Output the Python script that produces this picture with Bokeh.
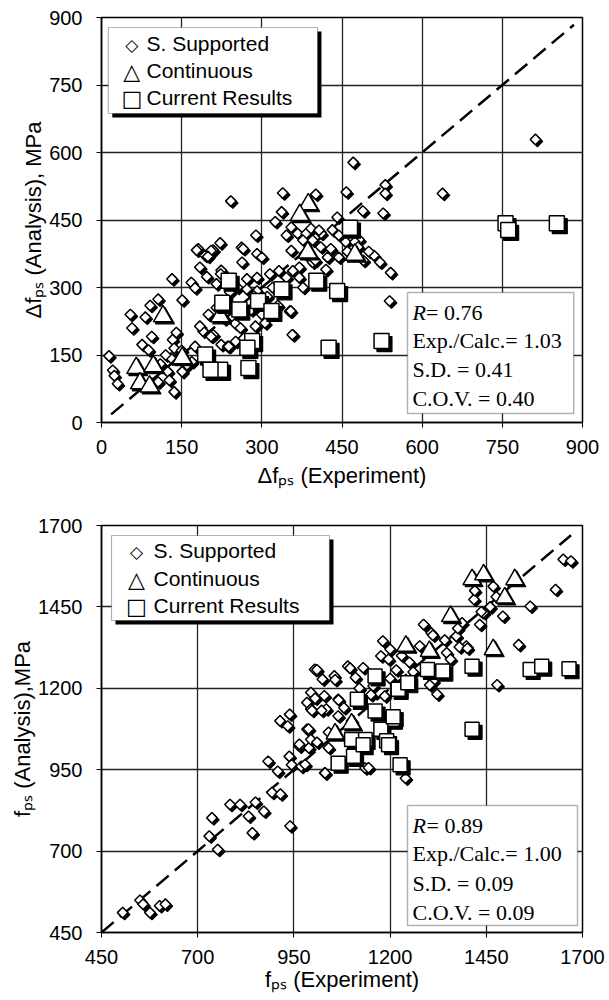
import math
from bokeh.plotting import figure
from bokeh.models import Range1d, FixedTicker, Label, BoxAnnotation, ColumnDataSource
from bokeh.transform import dodge
from bokeh.layouts import column
from bokeh.embed import file_html
from bokeh.resources import INLINE

# ---------------- DATA ----------------
top_ticks = [0, 150, 300, 450, 600, 750, 900]
bot_ticks = [450, 700, 950, 1200, 1450, 1700]

top_diag = [18, 884]
bot_diag = [450, 1670]

top_ss_pts = [
    (812, 629), (471, 578), (242, 492), (339, 510), (401, 507), (458, 512), (531, 528), (531, 509), (638, 509),
    (337, 468), (489, 470), (527, 465), (441, 456), (325, 446), (289, 416), (355, 434), (222, 399), (181, 386),
    (262, 389), (411, 420), (432, 428), (482, 406), (178, 383), (194, 371), (209, 383), (184, 345), (197, 324),
    (215, 308), (132, 319), (168, 311), (175, 299), (151, 272), (106, 274), (91, 260), (54, 240), (82, 234),
    (57, 210), (94, 191), (76, 173), (88, 161), (133, 184), (136, 165), (14, 148), (21, 116), (30, 86), (24, 104),
    (106, 90), (124, 113), (127, 94), (136, 68), (151, 113), (160, 128), (169, 135), (130, 143), (175, 169),
    (190, 203), (184, 214), (209, 195), (224, 173), (236, 169), (224, 338), (346, 416), (367, 420), (383, 420),
    (392, 431), (407, 427), (377, 405), (395, 405), (444, 416), (457, 401), (474, 401), (429, 386), (423, 367),
    (444, 367), (355, 382), (380, 375), (395, 356), (370, 345), (205, 382), (199, 369), (265, 386), (291, 375),
    (263, 356), (300, 367), (315, 330), (332, 337), (346, 322), (358, 337), (370, 322), (377, 300), (223, 330),
    (272, 319), (291, 322), (291, 292), (272, 296), (254, 300), (285, 281), (352, 247), (358, 195), (306, 221),
    (288, 214), (266, 187), (251, 180), (238, 169), (205, 191), (539, 270), (541, 333), (521, 356), (510, 371),
    (357, 195), (354, 248), (310, 280), (330, 260), (300, 240), (320, 300), (410, 390), (400, 360), (420, 340),
    (460, 380), (480, 390), (500, 380), (490, 360), (150, 160), (110, 130), (120, 150), (140, 200), (200, 240),
    (215, 255), (240, 290), (230, 230), (250, 220), (260, 210), (280, 250),
]
top_ct_pts = [
    (387, 485), (371, 461), (474, 373), (386, 378), (115, 236), (65, 121), (97, 125), (72, 87), (90, 80),
    (151, 143), (222, 236),
]
top_cr_pts = [
    (465, 433), (756, 443), (761, 428), (852, 443), (524, 181), (425, 166), (441, 292), (402, 315), (337, 296),
    (293, 270), (318, 248), (258, 251), (226, 266), (238, 315), (282, 181), (273, 166), (275, 121), (222, 117),
    (204, 117), (194, 151),
]

bot_ss_pts = [
    (505, 511), (550, 549), (558, 537), (576, 511), (601, 532), (616, 537),
    (730, 746), (737, 802), (752, 705), (784, 843), (810, 843), (832, 807), (842, 756), (850, 850), (872, 822),
    (893, 880), (915, 875), (940, 777),
    (883, 976), (908, 945), (938, 991), (944, 965), (964, 1022), (969, 960), (989, 1017), (1030, 940),
    (1040, 1017), (1135, 955), (1240, 924),
    (914, 1100), (939, 1120), (934, 1084), (984, 1074), (964, 1028), (994, 1043),
    (1004, 1258), (1024, 1228), (1055, 1238), (1090, 1268), (1130, 1263), (1110, 1233), (994, 1187), (1029, 1177),
    (1065, 1166), (984, 1156), (994, 1136), (1034, 1136), (1065, 1115), (1156, 1207), (1186, 1176),
    (1181, 1345), (1176, 1299), (1196, 1289), (1277, 1330), (1347, 1309), (1357, 1289), (1322, 1182), (1312, 1222),
    (1287, 1396), (1307, 1370), (1387, 1401), (1372, 1360), (1398, 1330),
    (1650, 1596), (1670, 1591), (1630, 1503), (1564, 1452), (1534, 1334), (1478, 1211), (1468, 1513), (1443, 1432),
    (1418, 1473), (1433, 1396), (1493, 1421), (1476, 1481), (1437, 1435),
    (1010, 1257), (1057, 1226), (1096, 1262), (1005, 1169), (1066, 1164), (997, 1132), (1022, 1132), (988, 1075),
    (1010, 1034), (1040, 1065), (979, 966), (1031, 940), (1144, 956),
    (1311, 1363), (1376, 1384), (1380, 1327), (1401, 1323), (1342, 1348), (1216, 1256), (1303, 1210),
    (1250, 1280), (1230, 1300), (1260, 1250), (1200, 1230), (1150, 1180), (1120, 1200), (1080, 1140),
    (1100, 1100), (1200, 1320), (1420, 1500), (1460, 1450),
]
bot_ct_pts = [
    (1413, 1534), (1443, 1549), (1524, 1534), (1498, 1478), (1357, 1421), (1241, 1330), (1302, 1314),
    (1468, 1319), (1057, 1060), (1100, 1091),
]
bot_cr_pts = [
    (1161, 1238), (1115, 1166), (1161, 1130), (1221, 1197), (1246, 1217), (1206, 1105), (1176, 1074), (1191, 1039),
    (1135, 1043), (1100, 1043), (1297, 1258), (1337, 1253), (1413, 1268), (1564, 1258), (1594, 1268), (1665, 1260),
    (1413, 1074), (1065, 970), (1105, 991), (1130, 1027), (1196, 1027), (1226, 965), (1208, 1113),
]

legend_labels = ["S. Supported", "Continuous", "Current Results"]
legend_symbols = ["\u25C7", "\u25B3", "\u25A1"]
top_stats = ["= 0.76", "Exp./Calc.= 1.03", "S.D. = 0.41", "C.O.V. = 0.40"]
bot_stats = ["= 0.89", "Exp./Calc.= 1.00", "S.D. = 0.09", "C.O.V. = 0.09"]
top_titles = ["\u0394f\u209a\u209b (Experiment)", "\u0394f\u209a\u209b (Analysis), MPa"]
bot_titles = ["f\u209a\u209b (Experiment)", "f\u209a\u209b (Analysis),MPa"]

SANS = "Liberation Sans"
SERIF = "Liberation Serif"
PAGE_W = 605


class Frame:
    """Maps page pixel positions to data coordinates for annotation placement."""
    def __init__(self, L, R, T, B, lo, hi):
        self.L, self.R, self.T, self.B, self.lo, self.hi = L, R, T, B, lo, hi

    def dx(self, sx):
        return self.lo + (sx - self.L) / (self.R - self.L) * (self.hi - self.lo)

    def dy(self, sy):
        return self.lo + (self.B - sy) / (self.B - self.T) * (self.hi - self.lo)

    def ux(self):
        return (self.hi - self.lo) / (self.R - self.L)

    def uy(self):
        return (self.hi - self.lo) / (self.B - self.T)


def make_fig(fr, fig_top, fig_h, ticks, titles, xlab_standoff):
    left = fr.L
    right = PAGE_W - left - (fr.R - fr.L)
    top = fr.T - fig_top
    bottom = fig_h - top - (fr.B - fr.T)
    p = figure(width=PAGE_W, height=fig_h, output_backend="svg", toolbar_location=None,
               x_range=Range1d(fr.lo, fr.hi), y_range=Range1d(fr.lo, fr.hi),
               min_border_left=left, min_border_right=right, min_border_top=top, min_border_bottom=bottom)
    p.outline_line_color = "black"
    p.outline_line_width = 1.5
    p.xaxis.axis_label = titles[0]
    p.yaxis.axis_label = titles[1]
    for ax in (p.xaxis[0], p.yaxis[0]):
        ax.ticker = FixedTicker(ticks=ticks)
        ax.major_label_text_font = SANS
        ax.major_label_text_font_size = "20px"
        ax.major_label_text_color = "black"
        ax.axis_label_text_font = SANS
        ax.axis_label_text_font_size = "22px"
        ax.axis_label_text_font_style = "normal"
        ax.axis_label_text_color = "black"
        ax.axis_label_standoff = 0
        ax.major_tick_out = 5
        ax.major_tick_in = 0
        ax.minor_tick_out = 0
        ax.minor_tick_in = 0
        ax.axis_line_color = "black"
        ax.axis_line_width = 1.5
        ax.major_tick_line_color = "black"
    p.xaxis.axis_label_standoff = xlab_standoff
    p.xaxis.major_label_standoff = 12
    p.yaxis.major_label_standoff = 14
    for g in (p.xgrid[0], p.ygrid[0]):
        g.ticker = FixedTicker(ticks=ticks)
        g.grid_line_color = "#222222"
        g.grid_line_width = 1.3
        g.grid_line_alpha = 1.0
    p.background_fill_color = "white"
    p.border_fill_color = "white"
    return p


def series(p, fr, pts, marker, size, angle, off):
    src = ColumnDataSource(dict(x=[a for a, b in pts], y=[b for a, b in pts]))
    p.scatter(x=dodge("x", off * fr.ux()), y=dodge("y", -off * fr.uy()), source=src, marker=marker,
              size=size, angle=angle, fill_color="black", line_color="black", line_width=1.2)
    p.scatter(x="x", y="y", source=src, marker=marker, size=size, angle=angle,
              fill_color="white", line_color="black", line_width=1.5)


def lab(p, fr, sx, sy, text, size, font=SANS, align="left", baseline="middle", style="normal"):
    p.add_layout(Label(x=fr.dx(sx), y=fr.dy(sy), text=text, text_font=font, text_font_size=f"{size}px",
                       text_align=align, text_baseline=baseline, text_font_style=style, text_color="black"))


def legend(p, fr, box, rows_y, sym_x, text_x):
    L, T, R, B = box
    p.add_layout(BoxAnnotation(left=fr.dx(L + 4), right=fr.dx(R + 4), top=fr.dy(T + 4), bottom=fr.dy(B + 4),
                               fill_color="black", fill_alpha=1.0, line_color="black", line_alpha=0.0))
    p.add_layout(BoxAnnotation(left=fr.dx(L), right=fr.dx(R), top=fr.dy(T), bottom=fr.dy(B),
                               fill_color="white", fill_alpha=1.0, line_color="black", line_width=1.2))
    sym_sizes = [17, 22, 22]
    for sym, txt, sy, ss in zip(legend_symbols, legend_labels, rows_y, sym_sizes):
        lab(p, fr, sym_x, sy + 1, sym, ss, font="DejaVu Sans", align="center")
        lab(p, fr, text_x, sy, txt, 21)


def stats_box(p, fr, box, x0, rows_y, texts):
    L, T, R, B = box
    p.add_layout(BoxAnnotation(left=fr.dx(L), right=fr.dx(R), top=fr.dy(T), bottom=fr.dy(B),
                               fill_color="white", fill_alpha=1.0, line_color="black", line_width=1.5))
    lab(p, fr, x0, rows_y[0], "R", 22, font=SERIF, style="italic")
    lab(p, fr, x0 + 14, rows_y[0], texts[0], 22, font=SERIF)
    for t, sy in zip(texts[1:], rows_y[1:]):
        lab(p, fr, x0, sy, t, 22, font=SERIF)


# ---------------- TOP CHART ----------------
ft = Frame(94, 586, 17, 422, 0, 900)
p1 = make_fig(ft, 0, 500, top_ticks, top_titles, 6)
p1.line(top_diag, top_diag, line_color="black", line_width=2.5, line_dash="16 8")
series(p1, ft, top_ss_pts, "square", 7.5, math.pi / 4, 2)
series(p1, ft, top_ct_pts, "triangle", 19, 0.0, 2)
series(p1, ft, top_cr_pts, "square", 15, 0.0, 3)
legend(p1, ft, (101, 27, 315, 113), [43, 70, 97], 125, 140)
stats_box(p1, ft, (407, 292, 577, 413), 412, [312, 340, 369, 398], top_stats)

# ---------------- BOTTOM CHART ----------------
fb = Frame(101, 582, 525, 932, 450, 1700)
p2 = make_fig(fb, 500, 498, bot_ticks, bot_titles, 0)
p2.line(bot_diag, bot_diag, line_color="black", line_width=2.5, line_dash="16 8")
series(p2, fb, bot_ss_pts, "square", 7.5, math.pi / 4, 2)
series(p2, fb, bot_ct_pts, "triangle", 18, 0.0, 2)
series(p2, fb, bot_cr_pts, "square", 14, 0.0, 3)
legend(p2, fb, (111, 535, 329, 620), [550, 578, 605], 136, 153)
stats_box(p2, fb, (407, 805, 577, 925), 412, [825, 853, 883, 912], bot_stats)

layout = column(p1, p2)
open("out.html", "w").write(file_html(layout, INLINE, title="fps comparison"))
